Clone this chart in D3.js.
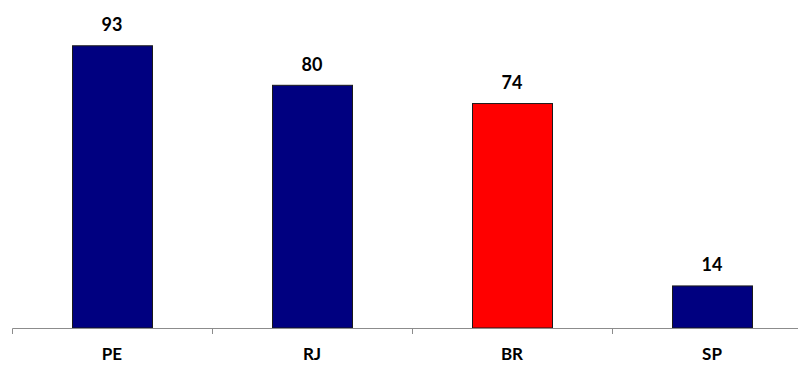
<!DOCTYPE html>
<html>
<head>
<meta charset="utf-8">
<script src="https://cdn.jsdelivr.net/npm/d3@7"></script>
<style>
  html, body { margin: 0; padding: 0; background: #fff; }
  svg { display: block; }
  text { font-family: Lato, "Open Sans", sans-serif; font-weight: bold; fill: #000; }
</style>
</head>
<body>
<svg id="chart" width="800" height="365"></svg>
<script>
// Values per state, with Brazil (BR) as the highlighted reference bar
const categories = ["PE", "RJ", "BR", "SP"];
const values = [93, 80, 74, 14];
const highlight = ["BR"];

const W = 800, H = 365;
const plot = { left: 12, right: 812, top: 24, bottom: 328 };

const svg = d3.select("#chart");

const x = d3.scaleBand()
  .domain(categories)
  .range([plot.left, plot.right])
  .paddingInner(0)
  .paddingOuter(0);

const y = d3.scaleLinear()
  .domain([0, 100])
  .range([plot.bottom, plot.top]);

const barW = x.bandwidth() * 0.4;
const data = categories.map((c, i) => ({ cat: c, value: values[i] }));

// Bars
svg.append("g")
  .selectAll("rect")
  .data(data)
  .join("rect")
  .attr("x", d => x(d.cat) + (x.bandwidth() - barW) / 2 + 0.5)
  .attr("y", d => y(d.value) + 0.5)
  .attr("width", barW)
  .attr("height", d => y(0) - y(d.value) - 0.5)
  .attr("fill", d => highlight.includes(d.cat) ? "#ff0000" : "#000080")
  .attr("stroke", "#1a1a1a")
  .attr("stroke-width", 1);

// Value labels above bars
svg.append("g")
  .selectAll("text")
  .data(data)
  .join("text")
  .attr("x", d => x(d.cat) + x.bandwidth() / 2)
  .attr("y", d => y(d.value) - 14)
  .attr("text-anchor", "middle")
  .attr("font-size", 18)
  .text(d => d.value);

// Category axis: baseline with ticks at band boundaries
const axis = svg.append("g");
axis.append("line")
  .attr("x1", plot.left + 0.5)
  .attr("x2", W - 2)
  .attr("y1", plot.bottom + 0.5)
  .attr("y2", plot.bottom + 0.5)
  .attr("stroke", "#8c8c8c")
  .attr("stroke-width", 1);

const boundaries = categories.map(c => x(c));
axis.selectAll("line.tick")
  .data(boundaries)
  .join("line")
  .attr("class", "tick")
  .attr("x1", d => Math.round(d) + 0.5)
  .attr("x2", d => Math.round(d) + 0.5)
  .attr("y1", plot.bottom + 0.5)
  .attr("y2", plot.bottom + 6)
  .attr("stroke", "#8c8c8c")
  .attr("stroke-width", 1);

axis.selectAll("text")
  .data(categories)
  .join("text")
  .attr("x", d => x(d) + x.bandwidth() / 2)
  .attr("y", 360)
  .attr("text-anchor", "middle")
  .attr("font-size", 17)
  .text(d => d);
</script>
</body>
</html>
